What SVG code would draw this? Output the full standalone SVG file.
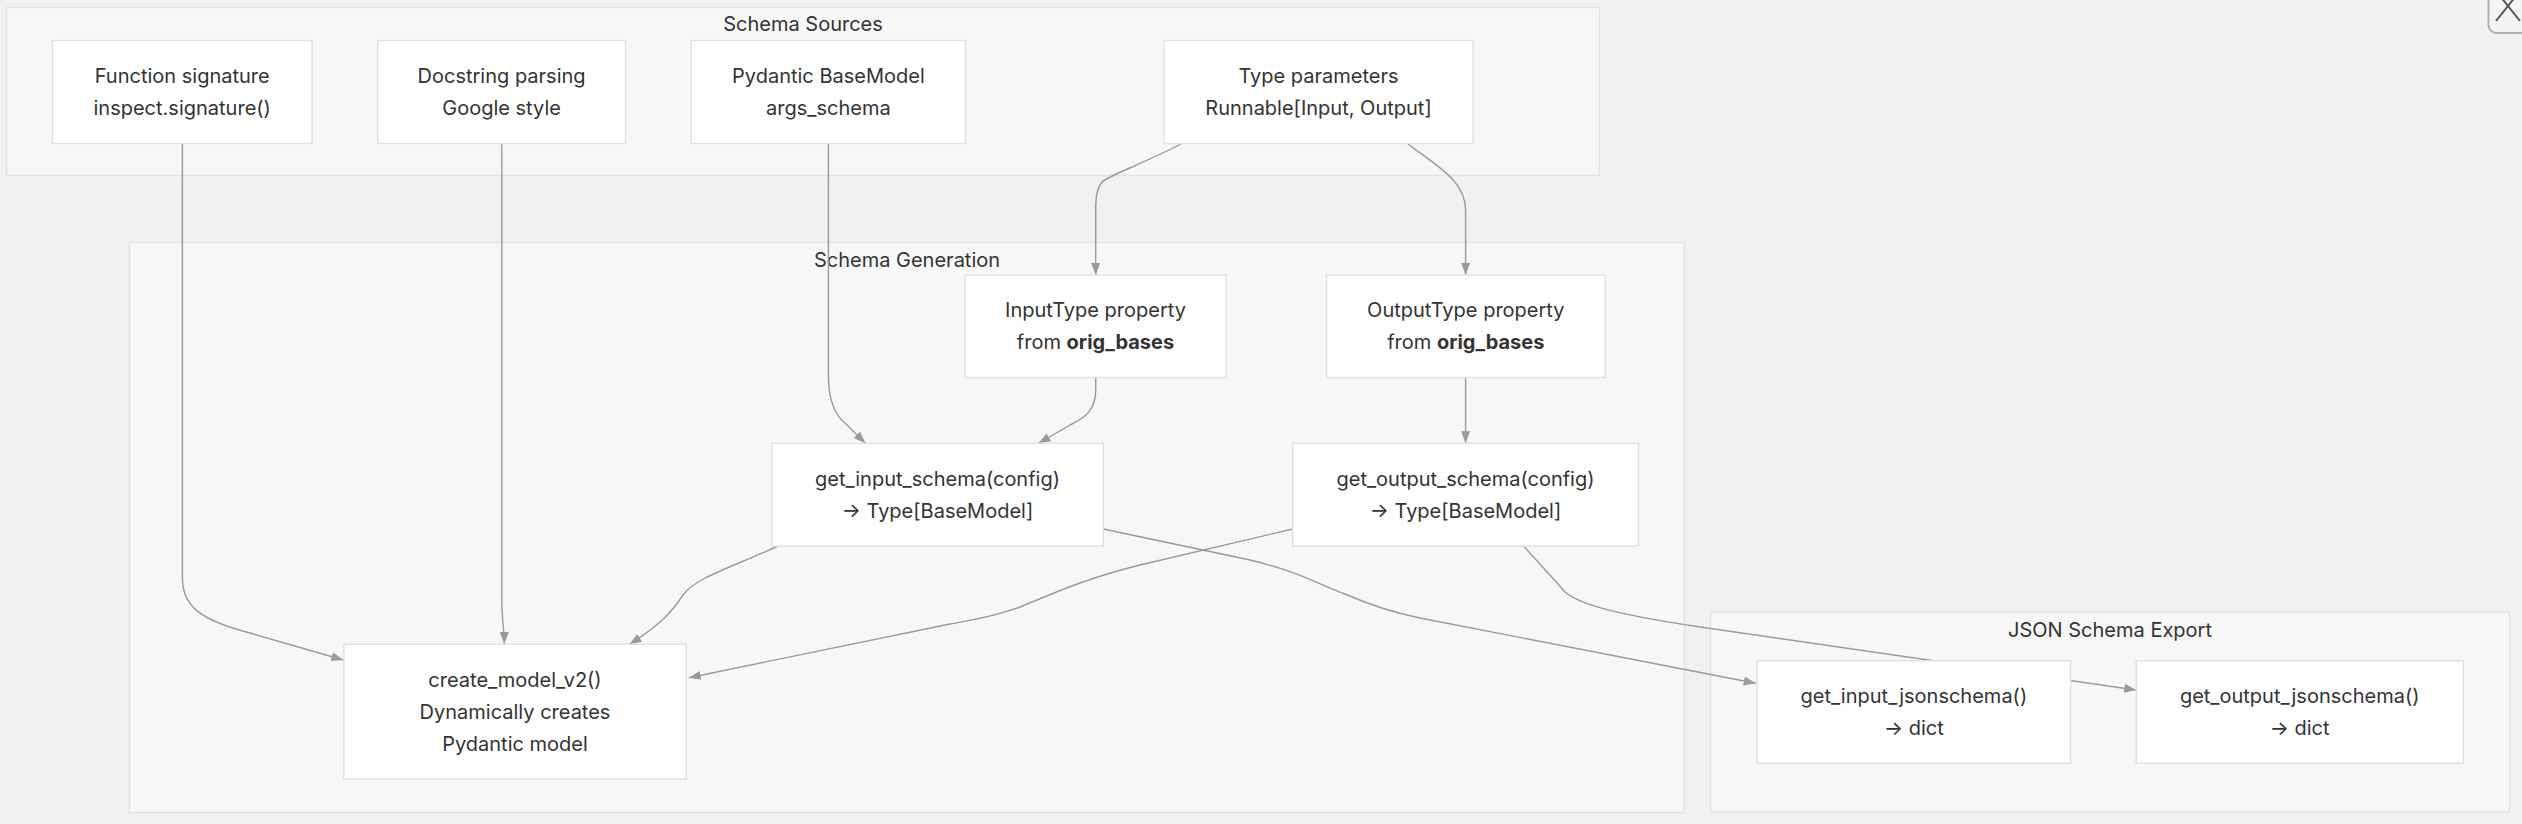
<svg xmlns="http://www.w3.org/2000/svg" width="2522" height="824" viewBox="0 0 2522 824">
<defs>
<style>
.bg{fill:#f2f1f0}
.cluster{fill:#f7f7f7;stroke:#e2e2e2;stroke-width:1.4}
.node{fill:#ffffff;stroke:#e0e0e0;stroke-width:1.4}
.t{font-family:Inter,"Liberation Sans",sans-serif;font-size:20px;fill:#333333;text-anchor:middle;dominant-baseline:central}
.b{font-weight:bold}
.edge{fill:none;stroke:#9a9a9a;stroke-width:1.4;marker-end:url(#arr)}
</style>
<marker id="arr" markerUnits="userSpaceOnUse" markerWidth="12" markerHeight="12" viewBox="0 0 12 12" refX="12" refY="6" orient="auto">
<path d="M0,1.5 L12,6 L0,10.5 z" fill="#9a9a9a"/>
</marker>
</defs>
<rect class="bg" x="0" y="0" width="2522" height="824"/>

<g id="cluster-sources">
<rect class="cluster" x="6.5" y="7.5" width="1593" height="168"/>
<text class="t" x="803" y="24">Schema Sources</text>
</g>
<g id="cluster-generation">
<rect class="cluster" x="129.5" y="242.5" width="1555" height="570"/>
<text class="t" x="907" y="260">Schema Generation</text>
</g>
<g id="cluster-export">
<rect class="cluster" x="1710.5" y="612" width="799" height="200"/>
<text class="t" x="2110" y="629.5">JSON Schema Export</text>
</g>

<g id="connectors">
<path class="edge" d="M182.4,143.3 V578 C182.4,606 200,620 250,633 L343.3,660"/>
<path class="edge" d="M501.8,143.3 V600 C501.8,620 504.3,630 504.3,644"/>
<path class="edge" d="M828.4,143.3 V375 C828.4,400 835,415 845,423 L865.4,443.3"/>
<path class="edge" d="M1181,144 C1140,165 1110,175 1102,182 C1096,190 1095.7,200 1095.7,210 V275"/>
<path class="edge" d="M1408,144 C1435,165 1465.6,180 1465.6,210 V275"/>
<path class="edge" d="M1095.7,377.3 V390 C1095.7,410 1085,418 1070,425 L1038.5,443.3"/>
<path class="edge" d="M1465.6,377.7 V443.3"/>
<path class="edge" d="M777,546.5 C730,568 695,578 683,595 C672,612 660,625 629.5,644.3"/>
<path class="edge" d="M1292.7,529 L1140,565 C1080,580 1050,595 1020,607 C990,618 970,620 950,624 L688.8,677.7"/>
<path class="edge" d="M1103.3,529 L1250,560 C1300,572 1320,585 1345,594 C1370,605 1390,612 1420,618 L1755.7,683.3"/>
<path class="edge" d="M1524.2,546.7 C1545,570 1555,580 1565,592 C1580,605 1620,615 1700,627 L2136.2,690"/>
</g>

<g id="node-funcsig">
<rect class="node" x="52.5" y="40.5" width="259.5" height="103"/>
<text class="t" x="182.2" y="75.9">Function signature</text>
<text class="t" x="182.2" y="107.9">inspect.signature()</text>
</g>
<g id="node-docstring">
<rect class="node" x="377.6" y="40.5" width="248" height="103"/>
<text class="t" x="501.6" y="75.9">Docstring parsing</text>
<text class="t" x="501.6" y="107.9">Google style</text>
</g>
<g id="node-pydantic">
<rect class="node" x="691.3" y="40.5" width="274.3" height="103"/>
<text class="t" x="828.4" y="75.9">Pydantic BaseModel</text>
<text class="t" x="828.4" y="107.9">args_schema</text>
</g>
<g id="node-typeparams">
<rect class="node" x="1163.9" y="40.5" width="309.3" height="103"/>
<text class="t" x="1318.5" y="75.9">Type parameters</text>
<text class="t" x="1318.5" y="107.9">Runnable[Input, Output]</text>
</g>
<g id="node-inputtype">
<rect class="node" x="965" y="275" width="261" height="102.5"/>
<text class="t" x="1095.5" y="310.3">InputType property</text>
<text class="t" x="1095.5" y="342.3">from <tspan class="b">orig_bases</tspan></text>
</g>
<g id="node-outputtype">
<rect class="node" x="1326.5" y="275" width="278.7" height="102.5"/>
<text class="t" x="1465.8" y="310.3">OutputType property</text>
<text class="t" x="1465.8" y="342.3">from <tspan class="b">orig_bases</tspan></text>
</g>
<g id="node-getinputschema">
<rect class="node" x="771.7" y="443.3" width="331.6" height="102.7"/>
<text class="t" x="937.5" y="478.7">get_input_schema(config)</text>
<text class="t" x="937.5" y="510.7">→ Type[BaseModel]</text>
</g>
<g id="node-getoutputschema">
<rect class="node" x="1292.7" y="443.3" width="345.7" height="102.7"/>
<text class="t" x="1465.5" y="478.7">get_output_schema(config)</text>
<text class="t" x="1465.5" y="510.7">→ Type[BaseModel]</text>
</g>
<g id="node-createmodel">
<rect class="node" x="343.8" y="644.3" width="342.4" height="134.7"/>
<text class="t" x="515" y="679.7">create_model_v2()</text>
<text class="t" x="515" y="711.7">Dynamically creates</text>
<text class="t" x="515" y="743.7">Pydantic model</text>
</g>
<g id="node-inputjson">
<rect class="node" x="1757.1" y="660.7" width="313.5" height="102.6"/>
<text class="t" x="1913.9" y="696">get_input_jsonschema()</text>
<text class="t" x="1913.9" y="728">→ dict</text>
</g>
<g id="node-outputjson">
<rect class="node" x="2136.2" y="660.7" width="327.1" height="102.6"/>
<text class="t" x="2299.7" y="696">get_output_jsonschema()</text>
<text class="t" x="2299.7" y="728">→ dict</text>
</g>

<g id="close-button">
<rect x="2488.5" y="-20" width="60" height="53" rx="8" fill="#f4f4f4" stroke="#b0b0b0" stroke-width="2"/>
<path d="M2496,21 L2520,-9 M2496,-9 L2520,21" fill="none" stroke="#555555" stroke-width="2"/>
</g>
</svg>
